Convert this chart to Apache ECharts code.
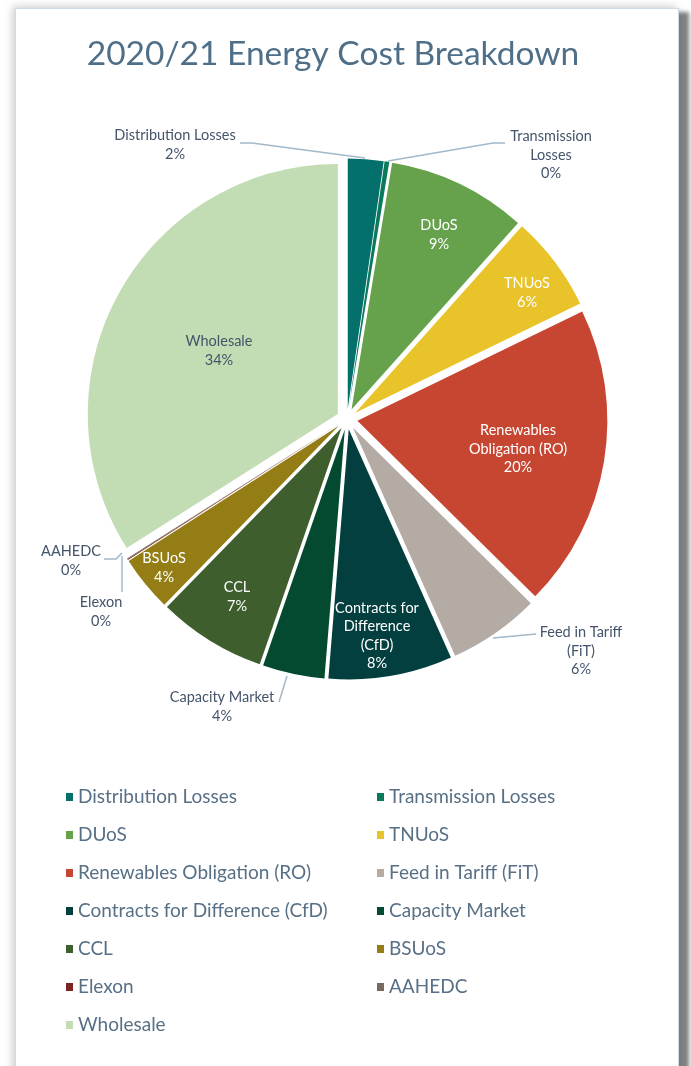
<!DOCTYPE html>
<html>
<head>
<meta charset="utf-8">
<script src="https://cdn.jsdelivr.net/npm/echarts@6/dist/echarts.min.js"></script>
<style>
  html, body { margin: 0; padding: 0; background: #ffffff; width: 691px; height: 1066px; overflow: hidden; }
  #card {
    position: absolute; left: 15px; top: 8px; width: 662px; height: 1100px;
    background: #ffffff; border: 1.5px solid #cfdbe5;
    box-shadow: 10px 4px 4px rgba(0,0,0,0.5), -3px -2px 8px rgba(0,0,0,0.18);
  }
  #chart { position: absolute; left: 0; top: 0; width: 691px; height: 1066px; }
</style>
</head>
<body>
<div id="card"></div>
<div id="chart"></div>
<script>
const chartTitle = '2020/21 Energy Cost Breakdown';
const categories = [
  'Distribution Losses', 'Transmission Losses', 'DUoS', 'TNUoS',
  'Renewables Obligation (RO)', 'Feed in Tariff (FiT)',
  'Contracts for Difference (CfD)', 'Capacity Market', 'CCL', 'BSUoS',
  'Elexon', 'AAHEDC', 'Wholesale'
];
const sliceLabels = [
  'Distribution Losses', 'Transmission\nLosses', 'DUoS', 'TNUoS',
  'Renewables\nObligation (RO)', 'Feed in Tariff\n(FiT)',
  'Contracts for\nDifference\n(CfD)', 'Capacity Market', 'CCL', 'BSUoS',
  'Elexon', 'AAHEDC', 'Wholesale'
];
const sharePct = [2.3, 0.3, 9.0, 6.2, 19.6, 5.9, 8.0, 4.0, 7.0, 3.6, 0.05, 0.05, 34.0];
const colors = [
  '#03706b', '#0b7a5a', '#66a14b', '#e8c42a', '#c64631', '#b4aba4',
  '#023f3e', '#034a31', '#3e5f2d', '#937d14', '#7b2620', '#786a5f', '#c2dcb3'
];
const labelTextColor = ['#44546a', '#44546a', '#ffffff', '#ffffff', '#ffffff', '#44546a',
  '#ffffff', '#44546a', '#ffffff', '#ffffff', '#44546a', '#44546a', '#44546a'];
const legendLeft = [0, 2, 4, 6, 8, 10, 12];
const legendRight = [1, 3, 5, 7, 9, 11];

// label placement (text centre) and leader lines, in page pixels
const labelPos = [
  [175, 145], [551, 155], [439, 235], [527, 293], [518, 449], [581, 651],
  [377, 636], [222, 707], [237, 597], [164, 568], [101, 612], [71, 561], [219, 351]
];
const leaderLines = {
  0: [[365, 158], [252, 143], [240, 143]],
  1: [[388, 161], [493, 143], [505, 143]],
  5: [[493, 638], [536, 634]],
  7: [[287, 676], [279, 702]],
  10: [[122, 556], [122, 592]],
  11: [[122, 553], [116, 559], [104, 559]]
};

const FONT = 'Lato, "Open Sans", sans-serif';
const chart = echarts.init(document.getElementById('chart'), null, { renderer: 'canvas' });

const total = sharePct.reduce((a, b) => a + b, 0);

const data = categories.map((name, i) => ({
  name,
  value: sharePct[i],
  selected: true,
  itemStyle: { color: colors[i] }
}));

const graphics = [];
Object.keys(leaderLines).forEach(k => {
  graphics.push({
    type: 'polyline', silent: true, z: 10,
    shape: { points: leaderLines[k] },
    style: { stroke: '#a3b8c8', lineWidth: 1.5, fill: null }
  });
});
categories.forEach((name, i) => {
  graphics.push({
    type: 'text', silent: true, z: 11,
    x: labelPos[i][0], y: labelPos[i][1],
    style: {
      text: sliceLabels[i] + '\n' + Math.round(sharePct[i] / total * 100) + '%',
      fontFamily: FONT, fontSize: 14.5, lineHeight: 18.5,
      fill: labelTextColor[i], align: 'center', verticalAlign: 'middle'
    }
  });
});

const legendCommon = {
  orient: 'vertical',
  icon: 'rect',
  itemWidth: 7,
  itemHeight: 8,
  itemGap: 18,
  padding: 0,
  selectedMode: false,
  textStyle: { fontFamily: FONT, fontSize: 19, color: '#587086', lineHeight: 20 }
};

chart.setOption({
  animation: false,
  title: {
    text: chartTitle,
    left: 328,
    textAlign: 'center',
    top: 32,
    textStyle: { fontFamily: FONT, fontSize: 33.5, fontWeight: 'normal', color: '#4f6f88' }
  },
  legend: [
    Object.assign({ left: 66, top: 787, data: legendLeft.map(i => categories[i]) }, legendCommon),
    Object.assign({ left: 377, top: 787, data: legendRight.map(i => categories[i]) }, legendCommon)
  ],
  graphic: graphics,
  series: [{
    type: 'pie',
    center: [347, 419],
    radius: 250,
    startAngle: 90,
    clockwise: true,
    selectedMode: 'multiple',
    selectedOffset: 10.5,
    avoidLabelOverlap: false,
    emphasis: { disabled: true },
    label: { show: false },
    labelLine: { show: false },
    data
  }]
});
</script>
</body>
</html>
